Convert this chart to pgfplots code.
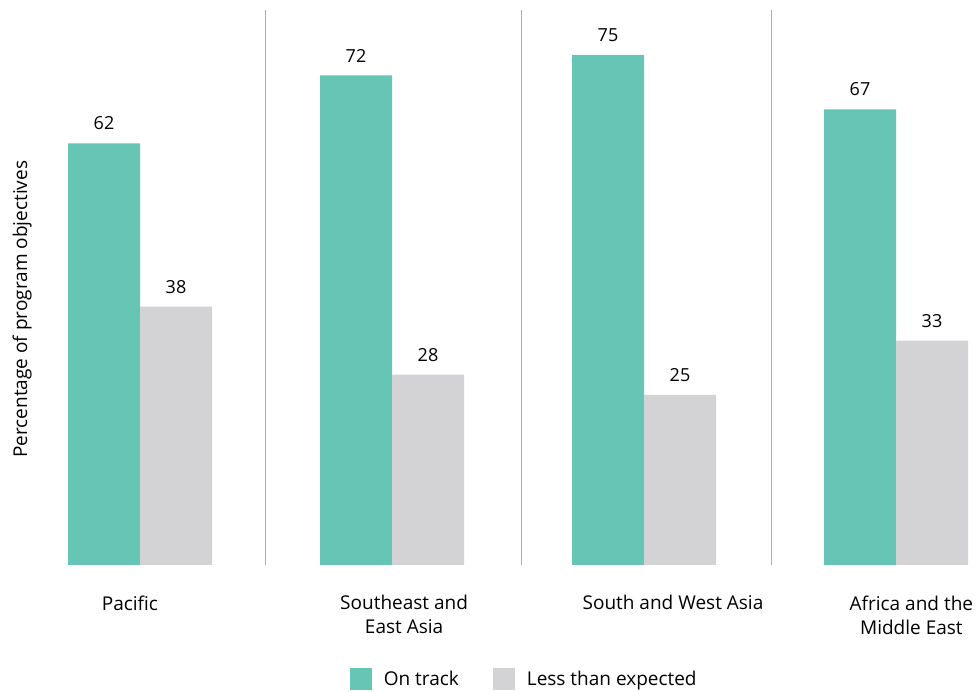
\documentclass[border=0pt]{standalone}
\usepackage{pgfplots}
\pgfplotsset{compat=1.18}
\usepackage{fontspec}
\setmainfont{Open Sans}
\definecolor{teal1}{RGB}{102,197,180}
\definecolor{gray1}{RGB}{211,211,213}
\definecolor{sep}{RGB}{175,175,175}
\begin{document}
\begin{tikzpicture}
\begin{axis}[
  scale only axis, width=978pt, height=555pt,
  xmin=-0.5556, xmax=3.3254, ymin=0, ymax=81.6,
  axis lines=none, clip=false,
  ytick=\empty,
  /pgf/number format/assume math mode=true,
  bar width=0.2857,
  nodes near coords,
  every node near coord/.append style={font=\fontsize{18}{21}\selectfont, color=black, anchor=south, inner sep=0pt, yshift=13pt},
  legend style={at={(rel axis cs:0.535,-0.2054)}, anchor=center, draw=none, legend columns=2,
    font=\fontsize{19}{23}\selectfont,
    /tikz/every odd column/.append style={column sep=12pt},
    /tikz/every even column/.append style={column sep=34pt},
    nodes={inner sep=0pt}},
  legend image code/.code={\fill[#1] (0pt,-11pt) rectangle (22pt,11pt);},
]
% separators
\draw[sep, line width=1pt] (axis cs:0.496,0) -- (axis cs:0.496,81.6);
\draw[sep, line width=1pt] (axis cs:1.512,0) -- (axis cs:1.512,81.6);
\draw[sep, line width=1pt] (axis cs:2.504,0) -- (axis cs:2.504,81.6);
\addplot[ybar, fill=teal1, draw=none, bar shift=0] coordinates {(-0.14285,62) (0.85715,72) (1.85715,75) (2.85715,67)};
\addlegendentry{On track}
\addplot[ybar, fill=gray1, draw=none, bar shift=0] coordinates {(0.14285,38) (1.14285,28) (2.14285,25) (3.14285,33)};
\addlegendentry{Less than expected}
% category labels
\begin{scope}[every node/.style={font=\fontsize{19}{24}\selectfont, align=center, anchor=north}]
\node at (axis cs:-0.040,0) [yshift=-27pt] {Pacific};
\node at (axis cs:1.048,0) [yshift=-27pt] {Southeast and\\East Asia};
\node at (axis cs:2.115,0) [yshift=-27pt] {South and West Asia};
\node at (axis cs:3.061,0) [yshift=-27pt] {Africa and the\\Middle East};
\end{scope}
\node[rotate=90, font=\fontsize{19}{23}\selectfont] at (axis cs:-0.468,37.6) {Percentage of program objectives};
\path (rel axis cs:0,-0.22703) (rel axis cs:1,1.01802);
\end{axis}
\end{tikzpicture}
\end{document}
